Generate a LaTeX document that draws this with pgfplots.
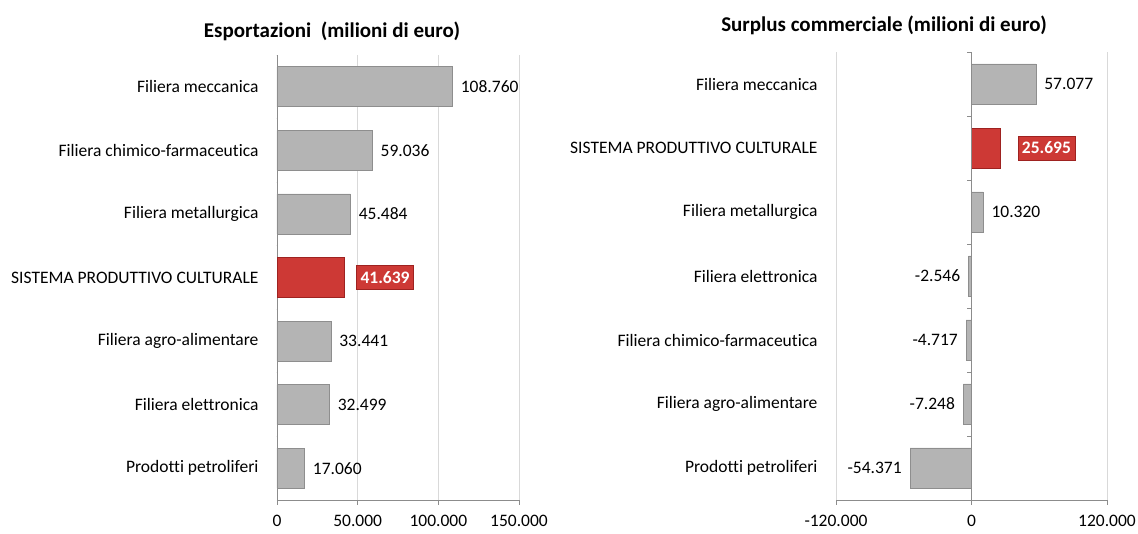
\documentclass[border=0pt]{standalone}
\usepackage{pgfplots}
\pgfplotsset{compat=1.18}
\usepackage{fontspec}
\setmainfont{Carlito}[Ligatures=NoCommon]

\definecolor{barg}{HTML}{B4B4B4}
\definecolor{bargd}{HTML}{8E8E8E}
\definecolor{spcred}{HTML}{CD3935}
\definecolor{spcredd}{HTML}{9E2220}
\definecolor{gridg}{HTML}{D9D9D9}
\definecolor{axg}{HTML}{8C8C8C}

\newcommand{\lbl}{\fontsize{17.5}{20}\selectfont}
\newcommand{\ttl}{\fontsize{21}{24}\selectfont\bfseries}

\pgfplotsset{
  hbars/.style={
    xbar, bar shift=0pt, bar width=40pt,
    scale only axis, anchor=south west,
    axis x line=bottom, axis y line=left,
    axis line style={-, axg, line width=0.8pt},
    ymin=-0.5, ymax=6.5, ytick={0,...,6},
    ytick style={draw=none},
    tick align=outside, major tick length=5pt,
    xtick style={axg, line width=0.8pt},
    xmajorgrids, grid style={gridg, line width=0.8pt},
    scaled x ticks=false,
    /pgf/number format/fixed,
    /pgf/number format/precision=0,
    /pgf/number format/1000 sep={.},
    /pgf/number format/assume math mode=true,
    xticklabel style={font=\lbl, yshift=-7pt},
    yticklabel style={font=\lbl, xshift=-10pt},
    point meta=x,
    nodes near coords={\pgfmathprintnumber{\pgfplotspointmeta}},
    nodes near coords style={font=\lbl, text=black, inner xsep=8pt},
  },
  graybar/.style={fill=barg, draw=bargd, line width=0.8pt},
  redbar/.style={fill=spcred, draw=spcredd, line width=0.8pt,
    nodes near coords style={fill=spcred, draw=spcredd, text=white,
      font=\lbl\bfseries, inner xsep=4pt, inner ysep=6pt, xshift=#1}},
}

\begin{document}
\begin{tikzpicture}
\path[use as bounding box] (0,0) rectangle (1138pt,534pt);

% Esportazioni
\begin{axis}[hbars,
  at={(277pt,34pt)}, width=242pt, height=445pt,
  xmin=0, xmax=150000, xtick={0,50000,100000,150000},
  yticklabels={Prodotti petroliferi, Filiera elettronica, Filiera agro-alimentare,
    SISTEMA PRODUTTIVO CULTURALE, Filiera metallurgica,
    Filiera chimico-farmaceutica, Filiera meccanica},
]
\addplot[graybar] coordinates {(17060,0) (32499,1) (33441,2) (45484,4) (59036,5) (108760,6)};
\addplot[redbar=12pt] coordinates {(41639,3)};
\pgfplotsinvokeforeach{-0.5,0.5,1.5,2.5,3.5,4.5,5.5,6.5}{
  \draw[axg, line width=0.8pt] (axis cs:0,#1) -- ++(-5pt,0pt);
}
\end{axis}

% Surplus commerciale
\begin{axis}[hbars,
  at={(836pt,34pt)}, width=271pt, height=448pt,
  xmin=-120000, xmax=120000, xtick={-120000,0,120000},
  y axis line style={draw=none},
  yticklabels={Prodotti petroliferi, Filiera agro-alimentare,
    Filiera chimico-farmaceutica, Filiera elettronica, Filiera metallurgica,
    SISTEMA PRODUTTIVO CULTURALE, Filiera meccanica},
]
\addplot[graybar] coordinates {(-54371,0) (-7248,1) (-4717,2) (-2546,3) (10320,4) (57077,6)};
\addplot[redbar=17pt] coordinates {(25695,5)};
\draw[axg, line width=0.8pt] (axis cs:0,-0.5) -- (axis cs:0,6.5);
\pgfplotsinvokeforeach{-0.5,0.5,1.5,2.5,3.5,4.5,5.5,6.5}{
  \draw[axg, line width=0.8pt] (axis cs:0,#1) -- ++(-5pt,0pt);
}
\end{axis}

\node[font=\ttl, anchor=base] at (332pt,496pt) {Esportazioni\ \ (milioni di euro)};
\node[font=\ttl, anchor=base] at (884pt,502pt) {Surplus commerciale (milioni di euro)};
\end{tikzpicture}
\end{document}
